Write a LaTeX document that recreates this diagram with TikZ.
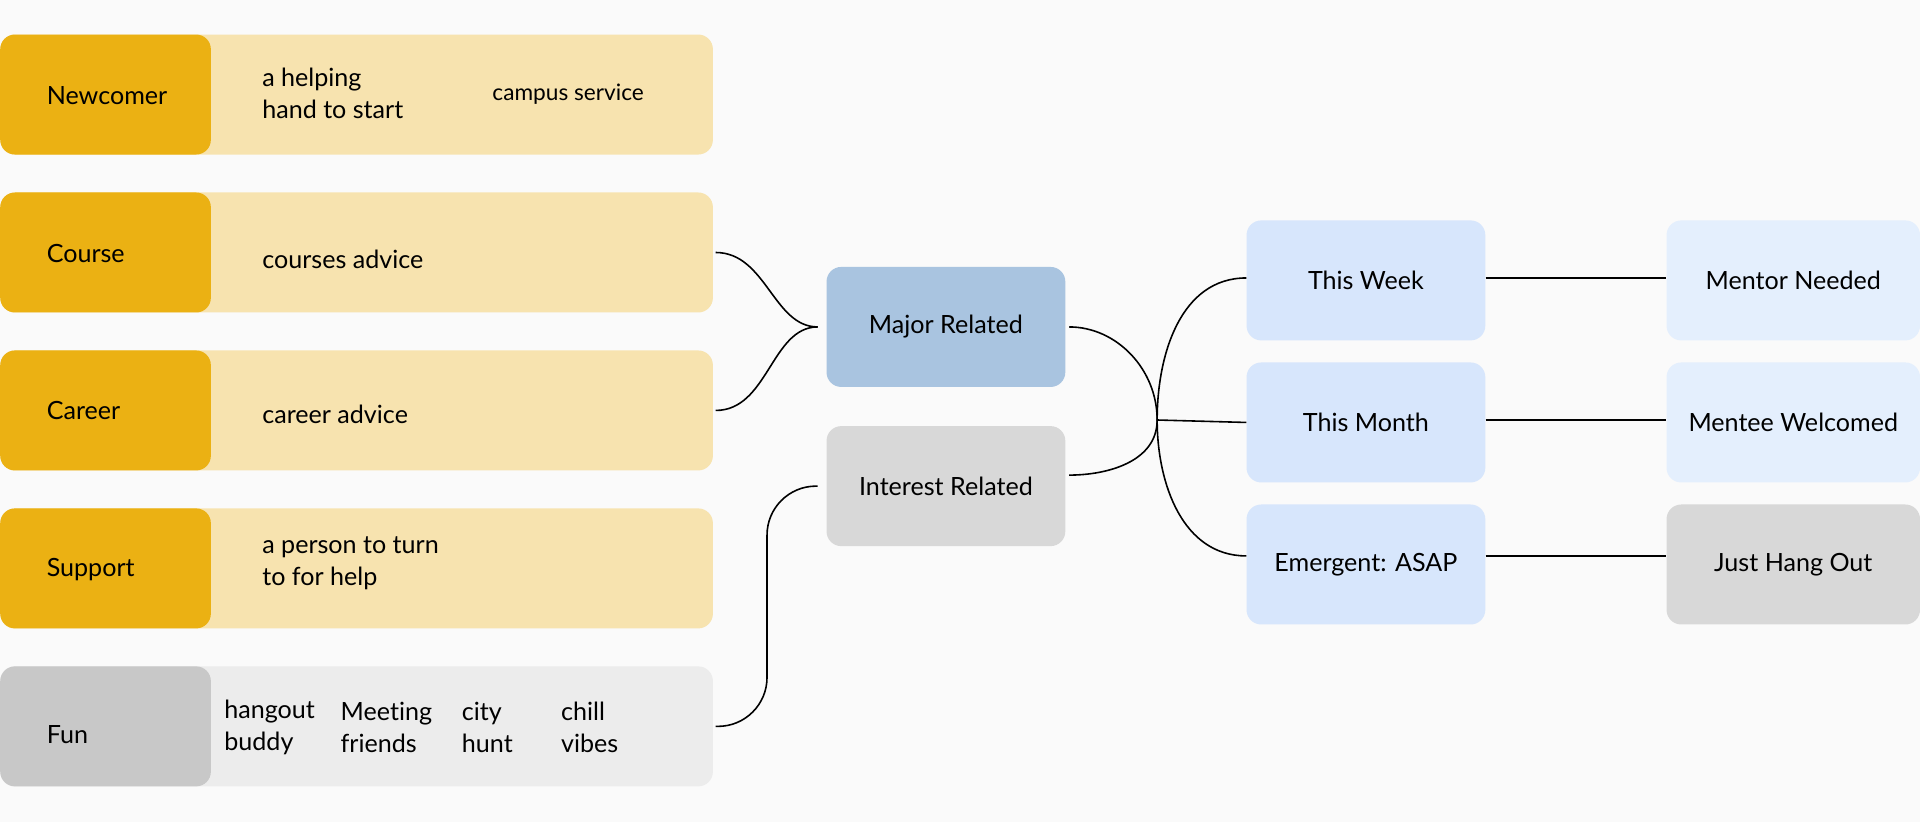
\documentclass[tikz,border=0pt]{standalone}
\usepackage{fontspec}
\setmainfont{Lato}[Ligatures=NoCommon]
\usetikzlibrary{positioning}

\definecolor{bgc}{HTML}{FAFAFA}
\definecolor{gold}{HTML}{EBB113}
\definecolor{goldlight}{HTML}{F7E3AF}
\definecolor{fundark}{HTML}{C8C8C8}
\definecolor{funlight}{HTML}{ECECEC}
\definecolor{majorc}{HTML}{A9C4E0}
\definecolor{greyc}{HTML}{D8D8D8}
\definecolor{timec}{HTML}{D7E6FC}
\definecolor{rolec}{HTML}{E4EFFD}

\begin{document}
\begin{tikzpicture}[x=1pt,y=-1pt,
    row_node/.style={rounded corners=12pt,minimum width=582pt,minimum height=98pt,inner sep=0pt,anchor=north west,fill=goldlight},
    tag_node/.style={rounded corners=12pt,minimum width=172pt,minimum height=98pt,inner sep=0pt,anchor=north west,fill=gold},
    label_text/.style={anchor=west,inner sep=0pt,align=left,font=\fontsize{20.5}{26}\selectfont},
    main_node/.style={rounded corners=12pt,minimum width=195pt,minimum height=98pt,inner sep=0pt,font=\fontsize{20.5}{26}\selectfont},
    link/.style={line width=1.3pt}]
    \fill[bgc] (0,0) rectangle (1568,671);
    \useasboundingbox (0,0) rectangle (1568,671);

    % left column
    \node[row_node] (newcomer_row) at (0,28) {};
    \node[tag_node] (newcomer) at (0,28) {};
    \node[label_text] (newcomer_l) at ([xshift=38pt,yshift=-1pt]newcomer.west) {Newcomer};
    \node[label_text] (helping) at (214,76) {a helping\\hand to start};
    \node[label_text,font=\fontsize{18.5}{24}\selectfont] (campus) at (402,77) {campus service};

    \node[row_node] (course_row) at (0,157) {};
    \node[tag_node] (course) at (0,157) {};
    \node[label_text] (course_l) at ([xshift=38pt,yshift=-1pt]course.west) {Course};
    \node[label_text] (courses_advice) at (214,212) {courses advice};

    \node[row_node] (career_row) at (0,286) {};
    \node[tag_node] (career) at (0,286) {};
    \node[label_text] (career_l) at ([xshift=38pt]career.west) {Career};
    \node[label_text] (career_advice) at (214,338) {career advice};

    \node[row_node] (support_row) at (0,415) {};
    \node[tag_node] (support) at (0,415) {};
    \node[label_text] (support_l) at ([xshift=38pt,yshift=-1pt]support.west) {Support};
    \node[label_text] (person) at (214,460) {a person to turn\\to for help};

    \node[row_node,fill=funlight] (fun_row) at (0,544) {};
    \node[tag_node,fill=fundark] (fun) at (0,544) {};
    \node[label_text] (fun_l) at ([xshift=38pt,yshift=-7pt]fun.west) {Fun};
    \node[label_text] (hangout) at (183,594) {hangout\\buddy};
    \node[label_text] (meeting) at (278,594) {Meeting\\friends};
    \node[label_text] (city) at (377,594) {city\\hunt};
    \node[label_text] (chill) at (458,594) {chill\\vibes};

    % middle
    \node[main_node,fill=majorc] (major) at (772.5,267) {Major Related};
    \node[main_node,fill=greyc] (interest) at (772.5,397) {Interest Related};

    % time and role
    \node[main_node,fill=timec] (week) at (1115.5,229) {This Week};
    \node[main_node,fill=timec] (month) at (1115.5,345) {This Month};
    \node[main_node,fill=timec] (asap) at (1115.5,461) {Emergent: ASAP};
    \node[main_node,fill=rolec,minimum width=207pt] (mentor) at (1464.5,229) {Mentor Needed};
    \node[main_node,fill=rolec,minimum width=207pt] (mentee) at (1464.5,345) {Mentee Welcomed};
    \node[main_node,fill=greyc,minimum width=207pt] (hang) at (1464.5,461) {Just Hang Out};
    \coordinate (hub) at (945,343);

    \draw[link,shorten <=2pt,shorten >=7pt] (course_row.east) to[out=0,in=180] (major.west);
    \draw[link,shorten <=2pt,shorten >=7pt] (career_row.east) to[out=0,in=180] (major.west);
    \draw[link,rounded corners=40pt,shorten <=2pt,shorten >=7pt] (fun_row.east) -- ++(44,0) |- (interest.west);
    \draw[link,shorten <=3pt] (major.east) to[out=0,in=90] (hub);
    \draw[link,shorten <=3pt] ([yshift=9pt]interest.east) to[out=0,in=-90] (hub);
    \draw[link] (hub) to[out=90,in=180] ([yshift=2pt]week.west);
    \draw[link] (hub) -- (month.west);
    \draw[link] (hub) to[out=-90,in=180] ([yshift=7pt]asap.west);
    \draw[link] ([yshift=2pt]week.east) -- ([yshift=2pt]mentor.west);
    \draw[link] ([yshift=2pt]month.east) -- ([yshift=2pt]mentee.west);
    \draw[link] ([yshift=7pt]asap.east) -- ([yshift=7pt]hang.west);
\end{tikzpicture}
\end{document}
